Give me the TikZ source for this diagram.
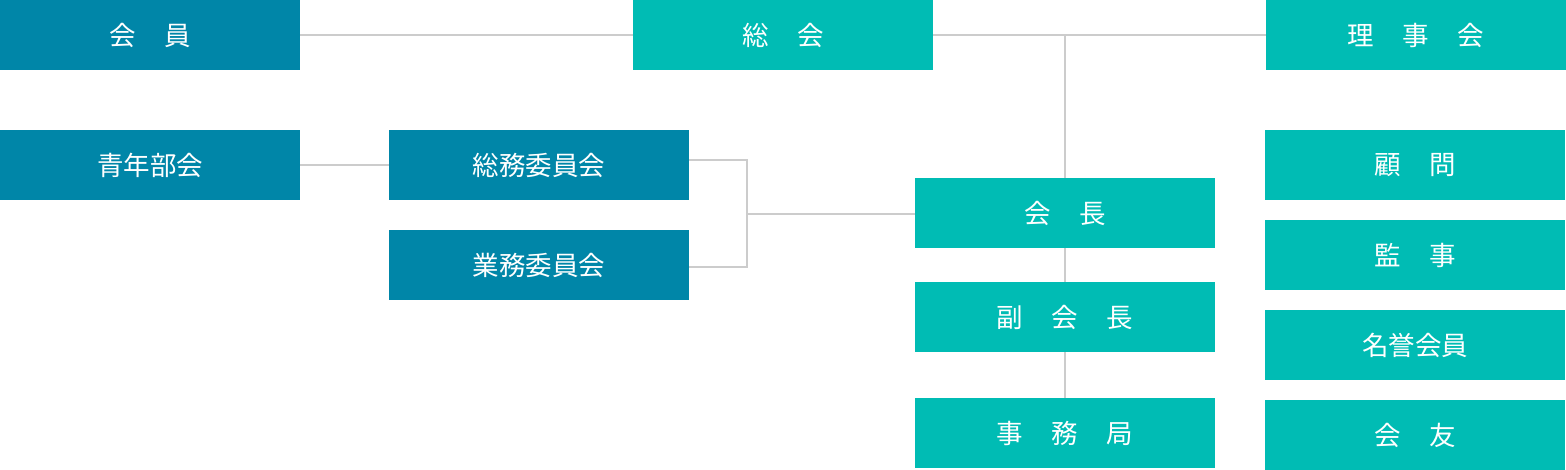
\documentclass[tikz,border=0pt]{standalone}
\usepackage{fontspec}
\setmainfont{Noto Sans CJK JP}
\definecolor{dblue}{RGB}{0,134,168}
\definecolor{tealbox}{RGB}{0,188,180}
\definecolor{lgray}{RGB}{204,204,204}
\newcommand\kgap{\hspace{28.5pt}}
\begin{document}
\begin{tikzpicture}[x=1pt,y=-1pt,
  box/.style={minimum width=300pt, minimum height=70pt, inner sep=0pt, text=white,
    font=\fontsize{26.5}{30}\selectfont, anchor=north west},
  bluebox/.style={box, fill=dblue},
  tbox/.style={box, fill=tealbox},
  conn/.style={draw=lgray, line width=2pt}]
\useasboundingbox (0,0) rectangle (1566,470);
\node[bluebox] (kaiin) at (0,0) {会\kgap 員};
\node[tbox] (soukai) at (633,0) {総\kgap 会};
\node[tbox] (rijikai) at (1266,0) {理\kgap 事\kgap 会};
\node[bluebox] (seinen) at (0,130) {青年部会};
\node[bluebox] (soumu) at (389,130) {総務委員会};
\node[bluebox] (gyoumu) at (389,230) {業務委員会};
\node[tbox] (kaichou) at (915,178) {会\kgap 長};
\node[tbox] (fuku) at (915,282) {副\kgap 会\kgap 長};
\node[tbox] (jimu) at (915,398) {事\kgap 務\kgap 局};
\node[tbox] (komon) at (1265,130) {顧\kgap 問};
\node[tbox] (kanji) at (1265,220) {監\kgap 事};
\node[tbox] (meiyo) at (1265,310) {名誉会員};
\node[tbox] (kaiyu) at (1265,400) {会\kgap 友};
\coordinate (jn) at (kaichou.north |- soukai.east);
\coordinate (bx) at (747,214);
\draw[conn] (kaiin.east) -- (soukai.west);
\draw[conn] (soukai.east) -- (rijikai.west);
\draw[conn] (jn) -- (kaichou.north);
\draw[conn] (seinen.east) -- (soumu.west);
\draw[conn] ([yshift=5pt]soumu.east) -| (bx);
\draw[conn] ([yshift=-2pt]gyoumu.east) -| (bx);
\draw[conn] (bx) -- (bx -| kaichou.west);
\draw[conn] (kaichou.south) -- (fuku.north);
\draw[conn] (fuku.south) -- (jimu.north);
\end{tikzpicture}
\end{document}
